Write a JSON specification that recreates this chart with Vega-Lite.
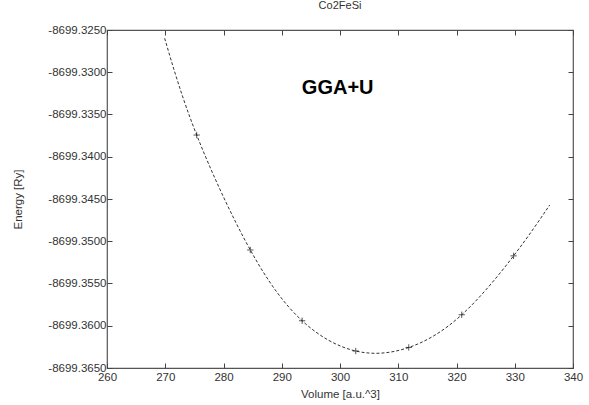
{
  "$schema": "https://vega.github.io/schema/vega-lite/v6.json",
  "width": 466,
  "height": 338,
  "autosize": {"type": "none"},
  "padding": {"left": 107, "top": 30, "right": 16, "bottom": 37},
  "background": "white",
  "title": {"text": "Co2FeSi", "fontSize": 11, "fontWeight": "normal", "font": "Liberation Sans", "color": "#333333", "offset": 13},
  "config": {
    "locale": {"number": {"decimal": ".", "thousands": ",", "grouping": [3], "currency": ["$", ""], "minus": "-"}},
    "view": {"stroke": "#555555", "strokeWidth": 1.2},
    "axis": {
      "domain": false,
      "grid": false,
      "labelFlush": false,
      "labelOverlap": false,
      "tickColor": "#444444",
      "tickWidth": 1,
      "labelFont": "Liberation Sans",
      "labelFontSize": 11.5,
      "labelColor": "#333333",
      "titleFont": "Liberation Sans",
      "titleFontSize": 11.5,
      "titleFontWeight": "normal",
      "titleColor": "#333333"
    }
  },
  "datasets": {
    "points": [
      {"V": 275.4, "E": -8699.33743},
      {"V": 284.6, "E": -8699.35103},
      {"V": 293.5, "E": -8699.35941},
      {"V": 302.7, "E": -8699.36299},
      {"V": 311.8, "E": -8699.36257},
      {"V": 320.9, "E": -8699.35870},
      {"V": 329.8, "E": -8699.35173}
    ],
    "curve": [
      {"V": 269.9, "E": -8699.32598},
      {"V": 275.4, "E": -8699.33743},
      {"V": 284.6, "E": -8699.35103},
      {"V": 293.5, "E": -8699.35941},
      {"V": 302.7, "E": -8699.36299},
      {"V": 311.8, "E": -8699.36257},
      {"V": 320.9, "E": -8699.35870},
      {"V": 329.8, "E": -8699.35173},
      {"V": 336.0, "E": -8699.34571}
    ],
    "label": [{"V": 299.6, "E": -8699.3319, "text": "GGA+U"}]
  },
  "layer": [
    {
      "data": {"name": "curve"},
      "mark": {"type": "line", "interpolate": "natural", "stroke": "#333333", "strokeWidth": 1, "strokeDash": [3, 2]},
      "encoding": {
        "x": {"field": "V", "type": "quantitative",
              "scale": {"domain": [260, 340], "nice": false, "zero": false},
              "axis": {"orient": "bottom", "title": "Volume [a.u.^3]", "values": [260, 270, 280, 290, 300, 310, 320, 330, 340], "tickSize": -5, "labelPadding": 8, "titlePadding": 6}},
        "y": {"field": "E", "type": "quantitative",
              "scale": {"domain": [-8699.365, -8699.325], "nice": false, "zero": false},
              "axis": {"orient": "left", "title": "Energy [Ry]", "format": ".4f", "values": [-8699.365, -8699.36, -8699.355, -8699.35, -8699.345, -8699.34, -8699.335, -8699.33, -8699.325], "tickSize": -5, "labelPadding": 6, "titlePadding": 24}}
      }
    },
    {
      "data": {"name": "points"},
      "mark": {"type": "point", "shape": "M-1,0L1,0M0,-1L0,1", "size": 40, "stroke": "#111111", "strokeWidth": 1, "filled": false},
      "encoding": {
        "x": {"field": "V", "type": "quantitative",
              "axis": {"orient": "top", "title": null, "labels": false, "values": [260, 270, 280, 290, 300, 310, 320, 330, 340], "tickSize": -5}},
        "y": {"field": "E", "type": "quantitative",
              "axis": {"orient": "right", "title": null, "labels": false, "values": [-8699.365, -8699.36, -8699.355, -8699.35, -8699.345, -8699.34, -8699.335, -8699.33, -8699.325], "tickSize": -5}}
      }
    },
    {
      "data": {"name": "label"},
      "mark": {"type": "text", "font": "Liberation Sans", "fontWeight": "bold", "fontSize": 20, "color": "#000000"},
      "encoding": {
        "x": {"field": "V", "type": "quantitative", "axis": null},
        "y": {"field": "E", "type": "quantitative", "axis": null},
        "text": {"field": "text"}
      }
    }
  ],
  "resolve": {"axis": {"x": "independent", "y": "independent"}}
}
